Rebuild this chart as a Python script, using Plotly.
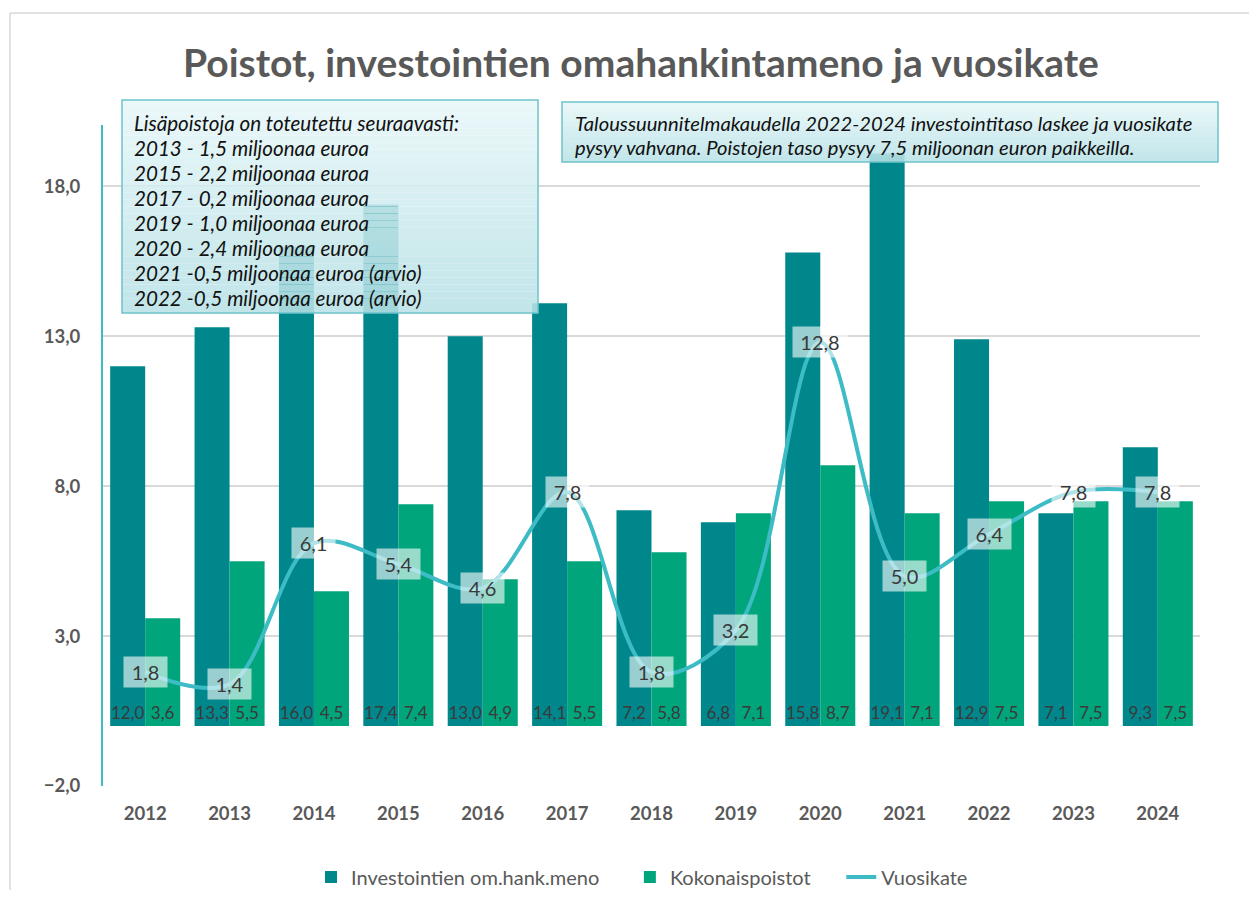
import plotly.graph_objects as go

years = ["2012", "2013", "2014", "2015", "2016", "2017", "2018", "2019", "2020", "2021", "2022", "2023", "2024"]
investoinnit = [12.0, 13.3, 16.0, 17.4, 13.0, 14.1, 7.2, 6.8, 15.8, 19.1, 12.9, 7.1, 9.3]
poistot = [3.6, 5.5, 4.5, 7.4, 4.9, 5.5, 5.8, 7.1, 8.7, 7.1, 7.5, 7.5, 7.5]
vuosikate = [1.8, 1.4, 6.1, 5.4, 4.6, 7.8, 1.8, 3.2, 12.8, 5.0, 6.4, 7.8, 7.8]
series_names = ["Investointien om.hank.meno", "Kokonaispoistot", "Vuosikate"]

title_text = "Poistot, investointien omahankintameno ja vuosikate"
box1_lines = [
    "Lisäpoistoja on toteutettu seuraavasti:",
    "2013 - 1,5 miljoonaa euroa",
    "2015 - 2,2 miljoonaa euroa",
    "2017 - 0,2 miljoonaa euroa",
    "2019 - 1,0 miljoonaa euroa",
    "2020 - 2,4 miljoonaa euroa",
    "2021 -0,5 miljoonaa euroa (arvio)",
    "2022 -0,5 miljoonaa euroa (arvio)",
]
box2_lines = [
    "Taloussuunnitelmakaudella 2022-2024 investointitaso laskee ja vuosikate",
    "pysyy vahvana. Poistojen taso pysyy 7,5 miljoonan euron paikkeilla.",
]

# page body has an 8px margin: figure is shrunk so the screenshot coords line up
OFF = 8
W, H = 1257 - 2 * OFF, 898 - 2 * OFF
L, R, T, B = 103, 1200, 125, 786  # plot area in screenshot pixels
FONT = "Lato"
DARK = "#00878C"
GREEN = "#00A57B"
LINE = "#3DBCC6"
GRAY = "#595959"
PAD = "\u00a0" * 5  # extra spacing between legend entries


def px(xp):
    return (xp - L) / (R - L)


def py(yp):
    return (B - yp) / (B - T)


fig = go.Figure()
fig.add_trace(go.Bar(
    x=years, y=investoinnit, name=series_names[0] + PAD,
    marker=dict(color=DARK, line=dict(width=0)),
    texttemplate="%{y:.1f}", textposition="inside", insidetextanchor="start",
    textangle=0, textfont=dict(family=FONT, size=17, color="#3A3A3A"),
))
fig.add_trace(go.Bar(
    x=years, y=poistot, name=series_names[1] + PAD,
    marker=dict(color=GREEN, line=dict(width=0)),
    texttemplate="%{y:.1f}", textposition="inside", insidetextanchor="start",
    textangle=0, textfont=dict(family=FONT, size=17, color="#3A3A3A"),
))
fig.add_trace(go.Scatter(
    x=years, y=vuosikate, name=series_names[2], mode="lines",
    line=dict(color=LINE, width=4, shape="spline", smoothing=1.0),
))

annotations = []
for i, v in enumerate(vuosikate):
    label = f"{v:.1f}".replace(".", ",")
    annotations.append(dict(
        x=i, y=v, xref="x", yref="y", text=label,
        showarrow=False, bgcolor="rgba(255,255,255,0.6)", borderpad=0,
        width=len(label) * 11 + 10, height=30,
        font=dict(family=FONT, size=20, color="#3A3A3A"),
    ))

# title
annotations.append(dict(
    x=px(641), y=py(62), xref="paper", yref="paper", text=f"<b>{title_text}</b>",
    showarrow=False, xanchor="center", yanchor="middle",
    font=dict(family=FONT, size=39, color=GRAY),
))

shapes = [
    # outer chart border
    dict(type="line", xref="paper", yref="paper", x0=px(10), x1=px(1257), y0=py(13), y1=py(13),
         line=dict(color="#D9D9D9", width=1.5)),
    dict(type="line", xref="paper", yref="paper", x0=px(10), x1=px(10), y0=py(13), y1=py(898),
         line=dict(color="#D9D9D9", width=1.5)),
]


def gradient_box(x0, x1, y0, y1, n=30):
    top = (232, 247, 249)
    bot = (184, 225, 230)
    h = (y1 - y0) / n
    for k in range(n):
        t = (k + 0.5) / n
        c = tuple(round(top[j] + (bot[j] - top[j]) * t) for j in range(3))
        shapes.append(dict(
            type="rect", xref="paper", yref="paper", x0=px(x0), x1=px(x1),
            y0=py(y0 + h * (k + 1)), y1=py(y0 + h * k),
            fillcolor=f"rgba({c[0]},{c[1]},{c[2]},0.88)", line=dict(width=0), layer="above",
        ))
    shapes.append(dict(
        type="rect", xref="paper", yref="paper", x0=px(x0), x1=px(x1), y0=py(y1), y1=py(y0),
        fillcolor="rgba(0,0,0,0)", line=dict(color="#6CC4CB", width=1.5), layer="above",
    ))


gradient_box(122, 538, 100, 313)
gradient_box(562, 1218, 102, 162, n=12)

for i, line in enumerate(box1_lines):
    annotations.append(dict(
        x=px(132), y=py(123 + i * 25), xref="paper", yref="paper", text=f"<i>{line}</i>",
        showarrow=False, xanchor="left", yanchor="middle",
        font=dict(family=FONT, size=20.6, color="#111111"),
    ))
for i, line in enumerate(box2_lines):
    annotations.append(dict(
        x=px(573), y=py(123 + i * 24), xref="paper", yref="paper", text=f"<i>{line}</i>",
        showarrow=False, xanchor="left", yanchor="middle",
        font=dict(family=FONT, size=20.2, color="#111111"),
    ))

fig.update_layout(
    width=W, height=H,
    margin=dict(l=L - OFF, r=(W + OFF) - R, t=T - OFF, b=(H + OFF) - B, pad=0, autoexpand=False),
    paper_bgcolor="white", plot_bgcolor="white",
    separators=", ",
    barmode="group", bargap=0.17, bargroupgap=0,
    uniformtext=dict(mode="show", minsize=17),
    font=dict(family=FONT, color=GRAY),
    showlegend=True,
    legend=dict(orientation="h", x=px(642), xanchor="center", y=py(877), yanchor="middle",
                font=dict(family=FONT, size=20, color=GRAY), itemwidth=30,
                traceorder="normal"),
    annotations=annotations,
    shapes=shapes,
)
fig.update_xaxes(
    type="category", range=[-0.5, len(years) - 0.5], showgrid=False, showline=False, ticks="",
    tickfont=dict(family=FONT, size=18.5, color=GRAY, weight="bold"),
    ticklabelstandoff=14, fixedrange=True,
)
fig.update_yaxes(
    range=[-2, 20.05], tick0=-2, dtick=5, tickformat=".1f",
    showgrid=True, gridcolor="#D9D9D9", gridwidth=1.5,
    zeroline=False, showline=True, linecolor=LINE, linewidth=2,
    ticks="", tickfont=dict(family=FONT, size=18.5, color=GRAY, weight="bold"),
    ticklabelstandoff=17, fixedrange=True,
)

fig.write_html("out.html")
